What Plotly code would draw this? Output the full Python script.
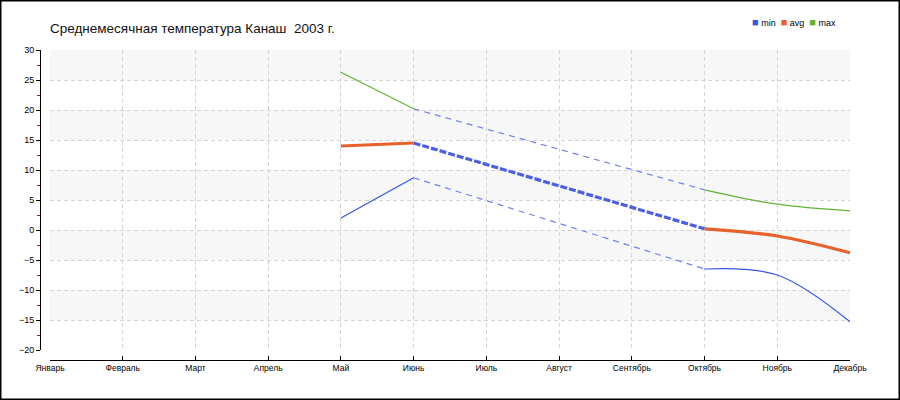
import plotly.graph_objects as go

# monthly temperature, Kanash 2003 (None = no data)
months = ["Январь", "Февраль", "Март", "Апрель", "Май", "Июнь",
          "Июль", "Август", "Сентябрь", "Октябрь", "Ноябрь", "Декабрь"]
t_min = [None, None, None, None, 2.0, 8.7, None, None, None, -6.5, -7.5, -15.3]
t_avg = [None, None, None, None, 14.0, 14.5, None, None, None, 0.2, -1.0, -3.8]
t_max = [None, None, None, None, 26.3, 20.2, None, None, None, 6.7, 4.3, 3.2]

MIN_COLOR = "#3355e8"
AVG_COLOR = "#e8602a"
MAX_COLOR = "#62b232"
GAP_COLOR = "#4a5ee8"

x_idx = list(range(len(months)))

fig = go.Figure()


def gap_segments(vals):
  """Pairs of valid points that have missing months between them."""
  valid = [i for i, v in enumerate(vals) if v is not None]
  return [(a, b) for a, b in zip(valid, valid[1:]) if b - a > 1]


def runs(vals):
  """Contiguous runs of valid points."""
  out, cur = [], []
  for i, v in enumerate(vals):
    if v is None:
      if cur:
        out.append(cur)
      cur = []
    else:
      cur.append(i)
  if cur:
    out.append(cur)
  return out


series = [
  ("min", t_min, MIN_COLOR, 1.2, 1.2, "6px,5px", "#7080f0"),
  ("avg", t_avg, AVG_COLOR, 3.2, 3.2, "7px,2px", GAP_COLOR),
  ("max", t_max, MAX_COLOR, 1.2, 1.2, "6px,5px", "#7080f0"),
]

for name, vals, color, w, gw, dash, gcol in series:
  # dashed connectors across missing months
  for a, b in gap_segments(vals):
    fig.add_trace(go.Scatter(
      x=[a, b], y=[vals[a], vals[b]], mode="lines",
      line=dict(color=gcol, width=gw, dash=dash),
      showlegend=False, hoverinfo="skip",
    ))
  # solid runs of real data
  for r in runs(vals):
    fig.add_trace(go.Scatter(
      x=r, y=[vals[i] for i in r], mode="lines", name=name,
      line=dict(color=color, width=w, shape="spline", smoothing=1.0),
      showlegend=False,
    ))

# alternating light bands
shapes = []
for y0 in range(25, -20, -10):
  shapes.append(dict(
    type="rect", xref="x domain", x0=0, x1=1, yref="y", y0=y0, y1=y0 + 5,
    fillcolor="#f7f7f7", line_width=0, layer="below",
  ))
# outer frame
shapes.append(dict(
  type="rect", xref="paper", yref="paper",
  x0=-40 / 810 + 0.0006, x1=(900 - 40) / 810 - 0.0006,
  y0=-40 / 310 + 0.0016, y1=360 / 310 - 0.0016,
  line=dict(color="black", width=2), fillcolor="rgba(0,0,0,0)",
))

legend_text = (
  f"<span style='color:{MIN_COLOR};font-size:11px'>■</span> min  "
  f"<span style='color:{AVG_COLOR};font-size:11px'>■</span> avg  "
  f"<span style='color:{MAX_COLOR};font-size:11px'>■</span> max"
)

fig.update_layout(
  width=900,
  height=400,
  margin=dict(l=40, r=50, t=50, b=40),
  paper_bgcolor="white",
  plot_bgcolor="white",
  font=dict(family="Liberation Sans", size=9, color="black"),
  title=dict(
    text="Среднемесячная температура Канаш \u00a02003 г.",
    xref="container", yref="container", x=50 / 900, y=1 - 28 / 400,
    xanchor="left", yanchor="middle",
    font=dict(family="Liberation Sans", size=13.5, color="#111111"),
  ),
  showlegend=False,
  shapes=shapes,
  annotations=[dict(
    text=legend_text, xref="paper", yref="paper",
    x=(750 - 40) / 810, y=(400 - 22 - 40) / 310,
    xanchor="left", yanchor="middle", showarrow=False,
    font=dict(family="Liberation Sans", size=9, color="black"),
  )],
  xaxis=dict(
    domain=[10 / 810, 1],
    anchor="free", position=0,
    range=[0, 11],
    tickvals=x_idx, ticktext=months,
    showline=True, linecolor="black", linewidth=1,
    ticks="inside", ticklen=4, tickcolor="black",
    showgrid=True, gridcolor="#d4d4d4", griddash="4px,3px", gridwidth=1,
    zeroline=False,
    tickfont=dict(size=8.5),
  ),
  yaxis=dict(
    domain=[10 / 310, 1],
    anchor="free", position=0,
    range=[-20, 30], dtick=5, tick0=0,
    showline=True, linecolor="black", linewidth=1,
    ticks="outside", ticklen=4, tickcolor="black",
    minor=dict(dtick=2.5, ticks="outside", ticklen=3, tickcolor="#dd0000", showgrid=False),
    showgrid=True, gridcolor="#d4d4d4", griddash="4px,3px", gridwidth=1,
    zeroline=False,
    tickfont=dict(size=9),
  ),
)

fig.write_html(
  "out.html",
  config={"displayModeBar": False},
  post_script="document.body.style.margin='0';",
)
